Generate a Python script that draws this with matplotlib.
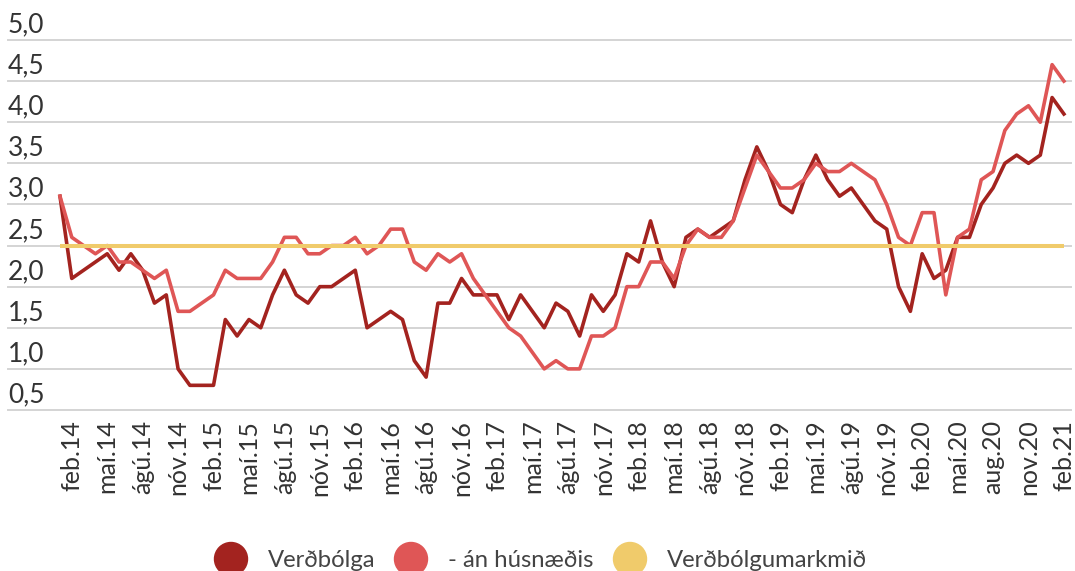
import matplotlib.pyplot as plt
from matplotlib.patches import Circle

plt.rcParams['font.family'] = ['Lato', 'DejaVu Sans']

# mánaðarleg gögn, jan.14 - feb.21 (%)
verdbolga = [3.1, 2.1, 2.2, 2.3, 2.4, 2.2, 2.4, 2.2, 1.8, 1.9,
             1.0, 0.8, 0.8, 0.8, 1.6, 1.4, 1.6, 1.5, 1.9, 2.2,
             1.9, 1.8, 2.0, 2.0, 2.1, 2.2, 1.5, 1.6, 1.7, 1.6,
             1.1, 0.9, 1.8, 1.8, 2.1, 1.9, 1.9, 1.9, 1.6, 1.9,
             1.7, 1.5, 1.8, 1.7, 1.4, 1.9, 1.7, 1.9, 2.4, 2.3,
             2.8, 2.3, 2.0, 2.6, 2.7, 2.6, 2.7, 2.8, 3.3, 3.7,
             3.4, 3.0, 2.9, 3.3, 3.6, 3.3, 3.1, 3.2, 3.0, 2.8,
             2.7, 2.0, 1.7, 2.4, 2.1, 2.2, 2.6, 2.6, 3.0, 3.2,
             3.5, 3.6, 3.5, 3.6, 4.3, 4.1]
an_husnaedis = [3.1, 2.6, 2.5, 2.4, 2.5, 2.3, 2.3, 2.2, 2.1, 2.2,
                1.7, 1.7, 1.8, 1.9, 2.2, 2.1, 2.1, 2.1, 2.3, 2.6,
                2.6, 2.4, 2.4, 2.5, 2.5, 2.6, 2.4, 2.5, 2.7, 2.7,
                2.3, 2.2, 2.4, 2.3, 2.4, 2.1, 1.9, 1.7, 1.5, 1.4,
                1.2, 1.0, 1.1, 1.0, 1.0, 1.4, 1.4, 1.5, 2.0, 2.0,
                2.3, 2.3, 2.1, 2.5, 2.7, 2.6, 2.6, 2.8, 3.2, 3.6,
                3.4, 3.2, 3.2, 3.3, 3.5, 3.4, 3.4, 3.5, 3.4, 3.3,
                3.0, 2.6, 2.5, 2.9, 2.9, 1.9, 2.6, 2.7, 3.3, 3.4,
                3.9, 4.1, 4.2, 4.0, 4.7, 4.5]
markmid = 2.5

tick_labels = ["feb.14", "maí.14", "ágú.14", "nóv.14",
               "feb.15", "maí.15", "ágú.15", "nóv.15",
               "feb.16", "maí.16", "ágú.16", "nóv.16",
               "feb.17", "maí.17", "ágú.17", "nóv.17",
               "feb.18", "maí.18", "ágú.18", "nóv.18",
               "feb.19", "maí.19", "ágú.19", "nóv.19",
               "feb.20", "maí.20", "aug.20", "nov.20",
               "feb.21"]
yticks = [0.5, 1.0, 1.5, 2.0, 2.5, 3.0, 3.5, 4.0, 4.5, 5.0]

names = ["Verðbólga", "- án húsnæðis", "Verðbólgumarkmið"]
colors = ["#a3231f", "#df5656", "#f0cb6b"]
text_color = "#333333"

x = list(range(len(verdbolga)))

fig = plt.figure(figsize=(10.75, 5.71), dpi=100)
ax = fig.add_axes([8 / 1075, 161 / 571, 1063 / 1075, 370 / 571])

for v in yticks:
    ax.axhline(v, color="#d4d4d4", lw=1.4, zorder=1, clip_on=False)
    ax.annotate(f"{v:.1f}".replace(".", ","), xy=(0, v),
                xycoords=("axes fraction", "data"), xytext=(0, 5.5),
                textcoords="offset points", ha="left", va="baseline",
                fontsize=19, color=text_color)

ax.plot(x, verdbolga, color=colors[0], lw=2.6, zorder=3)
ax.plot(x, an_husnaedis, color=colors[1], lw=2.6, zorder=4)
ax.plot([x[0], x[-1]], [markmid, markmid], color=colors[2], lw=2.9,
        zorder=5, solid_capstyle="butt")

ax.set_xlim(-4.4, 85.6)
ax.set_ylim(0.5, 5.0)
ax.set_yticks([])
ax.set_xticks(x[1::3])
ax.set_xticklabels(tick_labels, rotation=90, fontsize=18, color=text_color)
ax.tick_params(axis="x", length=0, pad=7)
for s in ax.spines.values():
    s.set_visible(False)

# legend drawn by hand in pixel coordinates
lax = fig.add_axes([0, 0, 1, 1])
lax.set_xlim(0, 1075)
lax.set_ylim(571, 0)
lax.axis("off")
for name, c, cx in zip(names, colors, [231, 411, 630]):
    lax.add_patch(Circle((cx, 559), 16.5, color=c))
    lax.text(cx + 37, 567, name, fontsize=17.2, va="baseline", ha="left",
             color="#444444")

fig.savefig("out.png", dpi=100)
